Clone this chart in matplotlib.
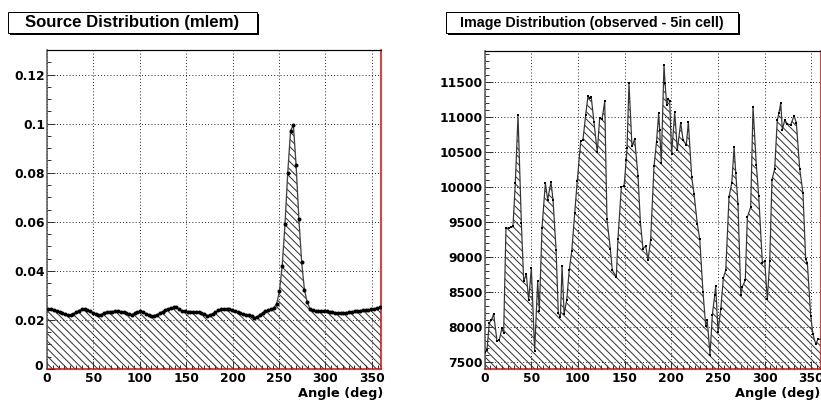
import numpy as np
import matplotlib
matplotlib.use("Agg")
import matplotlib.pyplot as plt
import matplotlib.transforms as mtransforms
from matplotlib.ticker import MultipleLocator, FixedLocator, FixedFormatter
from matplotlib.patches import Rectangle

# ---------------- data ----------------
src_angles = np.arange(1.5, 360, 3.0)
src_values = [
    0.0245, 0.0243, 0.0240, 0.0237, 0.0233, 0.0228, 0.0223, 0.0221, 0.0221, 0.0224,
    0.0232, 0.0238, 0.0243, 0.0245, 0.0241, 0.0236, 0.0229, 0.0223, 0.0221, 0.0222,
    0.0228, 0.0232, 0.0233, 0.0234, 0.0235, 0.0235, 0.0233, 0.0231, 0.0229, 0.0225,
    0.0222, 0.0228, 0.0233, 0.0235, 0.0233, 0.0226, 0.0220, 0.0217, 0.0218, 0.0222,
    0.0227, 0.0234, 0.0240, 0.0245, 0.0249, 0.0252, 0.0251, 0.0244, 0.0238, 0.0235,
    0.0234, 0.0233, 0.0231, 0.0231, 0.0231, 0.0230, 0.0224, 0.0218, 0.0219, 0.0225,
    0.0233, 0.0239, 0.0244, 0.0245, 0.0245, 0.0244, 0.0242, 0.0237, 0.0231, 0.0227,
    0.0225, 0.0222, 0.0220, 0.0215, 0.0209, 0.0213, 0.0222, 0.0229, 0.0235, 0.0239,
    0.0243, 0.0249, 0.0266, 0.0316, 0.0420, 0.0590, 0.0800, 0.0970, 0.0995, 0.0830,
    0.0610, 0.0435, 0.0322, 0.0272, 0.0245, 0.0240, 0.0238, 0.0237, 0.0237, 0.0236,
    0.0235, 0.0234, 0.0232, 0.0230, 0.0228, 0.0228, 0.0229, 0.0230, 0.0232, 0.0234,
    0.0235, 0.0237, 0.0238, 0.0239, 0.0240, 0.0241, 0.0243, 0.0245, 0.0248, 0.0252,
]

img_angles = [
    0.8, 2.5, 5.0, 7.2, 9.7, 13.3, 15.8, 18.6, 20.4, 22.9, 25.8, 28.6, 30.4, 32.9,
    35.8, 39.4, 41.9, 44.7, 47.2, 50.1, 53.6, 56.9, 58.6, 61.5, 65.1, 67.6, 71.1,
    73.3, 76.6, 79.0, 81.2, 83.0, 85.2, 88.0, 90.7, 93.4, 96.6, 99.3, 103.0, 105.4,
    108.3, 110.8, 112.6, 114.3, 117.2, 120.7, 123.3, 125.8, 128.7, 131.1, 134.7,
    136.8, 141.1, 142.9, 146.5, 149.4, 151.8, 152.6, 154.7, 157.9, 160.8, 164.4,
    166.9, 169.7, 172.6, 175.1, 177.9, 181.5, 184.2, 186.5, 187.6, 189.3, 192.2,
    193.3, 195.1, 196.8, 198.3, 200.4, 203.7, 206.5, 210.1, 212.6, 216.1, 218.3,
    221.9, 224.4, 227.9, 230.5, 234.0, 236.9, 238.6, 241.5, 244.0, 246.6, 247.6,
    250.1, 253.0, 255.8, 258.4, 261.9, 264.8, 267.3, 269.1, 271.5, 274.5, 276.2,
    279.3, 281.5, 285.1, 287.6, 291.1, 293.7, 297.6, 300.1, 302.9, 305.5, 307.9,
    310.8, 313.6, 315.4, 317.3, 319.0, 321.6, 324.3, 327.9, 331.5, 334.0, 337.6,
    341.1, 344.0, 345.8, 349.4, 351.8, 354.8, 357.2,
]
img_counts = [
    7650, 7670, 8060, 8100, 8190, 7800, 7824, 7990, 7919, 9418, 9418, 9428, 9442, 10061,
    11027, 9490, 8657, 8761, 8385, 8847, 7667, 8666, 8228, 9418, 10061, 9823, 10075,
    9823, 9100, 8200, 8150, 8880, 8190, 8390, 8820, 9090, 9636, 10096, 10656, 10679,
    11035, 11305, 11272, 11282, 10926, 10504, 10988, 10973, 11225, 9541, 9123,
    8815, 8720, 9266, 10006, 10015, 10395, 10561, 11486, 10584, 10689, 10157,
    9503, 9123, 9161, 8962, 9247, 10300, 10650, 11057, 10819, 10353, 11747,
    11495, 11176, 11257, 11238, 10477, 11072, 10534, 10924, 10677, 10605, 10929,
    10143, 9905, 9477, 9258, 8501, 8020, 8097, 7606, 8178, 8463, 8592,
    7930, 8259, 8701, 8820, 9867, 10058, 10572, 10200, 9758, 8463, 8582,
    8670, 9573, 9717, 11148, 10323, 9872, 8923, 8947, 8401, 8947, 10109,
    10261, 10962, 11057, 11209, 10819, 10962, 10905, 10890, 11019, 10924, 10261,
    9920, 8970, 8923, 8163, 7901, 7759, 7830,
]

x_ticks = [0, 50, 100, 150, 200, 250, 300, 350]
src_yticks = [0, 0.02, 0.04, 0.06, 0.08, 0.1, 0.12]
src_ylabels = ["0", "0.02", "0.04", "0.06", "0.08", "0.1", "0.12"]
img_yticks = [7500, 8000, 8500, 9000, 9500, 10000, 10500, 11000, 11500]

titles = ["Source Distribution (mlem)", "Image Distribution (observed - 5in cell)"]
xlabel = "Angle (deg)"

# ---------------- figure ----------------
DPI = 113
W, H = 821, 402


def pt(px):
    return px * 72.0 / DPI


HATCH = "\\" * 5
plt.rcParams["hatch.linewidth"] = pt(1.0)
fig = plt.figure(figsize=(W / DPI, H / DPI), dpi=DPI)
fig.patch.set_facecolor("white")


def px_axes(x0, y0, x1, y1):
    return fig.add_axes([x0 / W, 1 - y1 / H, (x1 - x0) / W, (y1 - y0) / H])


TICKFONT = dict(family="DejaVu Sans", weight="bold", size=pt(12.3))


def style_axes(ax, ylim, yticks, ylabels, yminor):
    ax.set_xlim(0, 360)
    ax.set_ylim(*ylim)
    ax.xaxis.set_major_locator(FixedLocator(x_ticks))
    ax.xaxis.set_major_formatter(FixedFormatter([str(t) for t in x_ticks]))
    ax.xaxis.set_minor_locator(MultipleLocator(6.25))
    ax.yaxis.set_major_locator(FixedLocator(yticks))
    ax.yaxis.set_major_formatter(FixedFormatter(ylabels))
    ax.yaxis.set_minor_locator(MultipleLocator(yminor))
    ax.tick_params(which="both", direction="in", top=False, right=False,
                   color="#333333", width=pt(1.0))
    ax.tick_params(which="major", length=pt(8))
    ax.tick_params(which="minor", length=pt(4))
    ax.tick_params(axis="x", pad=pt(3))
    ax.tick_params(axis="y", pad=pt(2))
    for lab in ax.get_xticklabels() + ax.get_yticklabels():
        lab.set_fontfamily(TICKFONT["family"])
        lab.set_fontweight(TICKFONT["weight"])
        lab.set_fontsize(TICKFONT["size"])
    ax.grid(True, which="major", color="black", linestyle=(0, (1, 2.5)),
            linewidth=pt(0.9))
    ax.set_axisbelow(True)
    ax.spines["left"].set_color("#555555")
    ax.spines["left"].set_linewidth(pt(1.5))
    ax.spines["top"].set_color("black")
    ax.spines["top"].set_linewidth(pt(1.2))
    ax.spines["right"].set_color("#dd0000")
    ax.spines["right"].set_linewidth(pt(1.5))
    ax.spines["bottom"].set_color("#dd0000")
    ax.spines["bottom"].set_linewidth(pt(1.5))


# left panel
axL = px_axes(47, 50, 381, 369)
ylimL = (0, 0.13)
xs = np.concatenate([[0], src_angles, [360]])
ys = np.concatenate([[src_values[0]], src_values, [src_values[-1]]])
axL.fill_between(xs, ys, ylimL[0], facecolor="none", edgecolor="#333333",
                 hatch=HATCH, linewidth=0, zorder=2)
axL.plot(xs, ys, color="#444444", lw=pt(1.3), zorder=3)
axL.plot(src_angles, src_values, linestyle="none", marker="o", ms=pt(4.0),
         mfc="black", mec="black", mew=0, zorder=4)
style_axes(axL, ylimL, src_yticks, src_ylabels, 0.005)
# lift the y "0" label a little, as in the reference
lab0 = axL.get_yticklabels()[0]
lab0.set_transform(lab0.get_transform() +
                   mtransforms.ScaledTranslation(-2 / DPI, 4 / DPI, fig.dpi_scale_trans))

# right panel
axR = px_axes(484.6, 51, 820.6, 369)
ylimR = (7404, 11946)
xi = np.concatenate([[0], img_angles, [360]])
yi = np.concatenate([[img_counts[0]], img_counts, [img_counts[-1]]])
axR.fill_between(xi, yi, ylimR[0], facecolor="none", edgecolor="#333333",
                 hatch=HATCH, linewidth=0, zorder=2)
axR.plot(xi, yi, color="#333333", lw=pt(1.2), zorder=3)
axR.plot(img_angles, img_counts, linestyle="none", marker="s", ms=pt(2.8),
         mfc="black", mec="black", mew=0, zorder=4)
style_axes(axR, ylimR, img_yticks, [str(v) for v in img_yticks], 100)

# overlay for titles and axis labels (pixel coordinates)
ov = fig.add_axes([0, 0, 1, 1])
ov.set_xlim(0, W)
ov.set_ylim(H, 0)
ov.axis("off")
ov.patch.set_alpha(0)

boxes = [(8, 12, 257, 32.5, 16.8), (446, 12, 738, 32.5, 14.2)]
for (x0, y0, x1, y1, fs), title in zip(boxes, titles):
    ov.add_patch(Rectangle((x0 + 2, y0 + 2), x1 - x0, y1 - y0,
                           facecolor="black", edgecolor="none", zorder=1))
    ov.add_patch(Rectangle((x0, y0), x1 - x0, y1 - y0, facecolor="white",
                           edgecolor="black", linewidth=pt(1.0), zorder=2))
    ov.text((x0 + x1) / 2, (y0 + y1) / 2 + 0.5, title, ha="center", va="center",
            family="Liberation Sans", weight="bold", size=pt(fs), zorder=3)

for xr in (383, 820):
    ov.text(xr, 394, xlabel, ha="right", va="center", family="DejaVu Sans",
            weight="bold", size=pt(12.9))

fig.savefig("out.png", dpi=DPI, facecolor="white")
